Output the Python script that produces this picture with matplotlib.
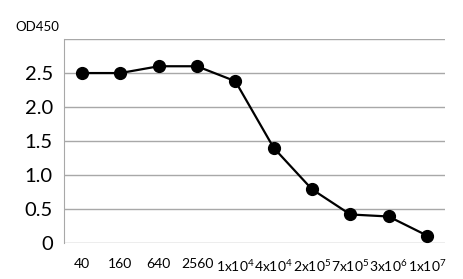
import matplotlib
matplotlib.use("Agg")
import matplotlib.pyplot as plt

plt.rcParams['font.family'] = ['Lato', 'DejaVu Sans']
plt.rcParams['mathtext.default'] = 'regular'

# dilution labels and OD450 readings
dilutions = ["40", "160", "640", "2560", "1x10$^4$", "4x10$^4$",
             "2x10$^5$", "7x10$^5$", "3x10$^6$", "1x10$^7$"]
od450 = [2.5, 2.5, 2.6, 2.6, 2.38, 1.4, 0.79, 0.42, 0.39, 0.11]
yticks = [0, 0.5, 1.0, 1.5, 2.0, 2.5, 3.0]
ytick_labels = ["0", "0.5", "1.0", "1.5", "2.0", "2.5", ""]

fig = plt.figure(figsize=(4.64, 2.79), dpi=100)
ax = fig.add_axes([0.138, 0.129, 0.821, 0.731])

x = list(range(len(dilutions)))
ax.plot(x, od450, color='black', lw=1.6, marker='o', ms=8.5, zorder=3)

ax.set_xlim(-0.47, 9.47)
ax.set_ylim(0, 3.0)
ax.set_yticks(yticks)
ax.set_yticklabels(ytick_labels, fontsize=14.5)
ax.set_xticks(x)
ax.set_xticklabels(dilutions, fontsize=10)
ax.tick_params(axis='both', length=0)
ax.tick_params(axis='y', pad=8)
ax.tick_params(axis='x', pad=11)

ax.grid(axis='y', color='#a8a8a8', lw=1)
ax.set_axisbelow(True)
for side in ['top', 'right', 'bottom']:
    ax.spines[side].set_visible(False)
ax.spines['left'].set_color('#a8a8a8')

fig.text(0.08, 0.905, "OD450", fontsize=9.5, ha='center', va='center')

fig.savefig("out.png", dpi=100)
